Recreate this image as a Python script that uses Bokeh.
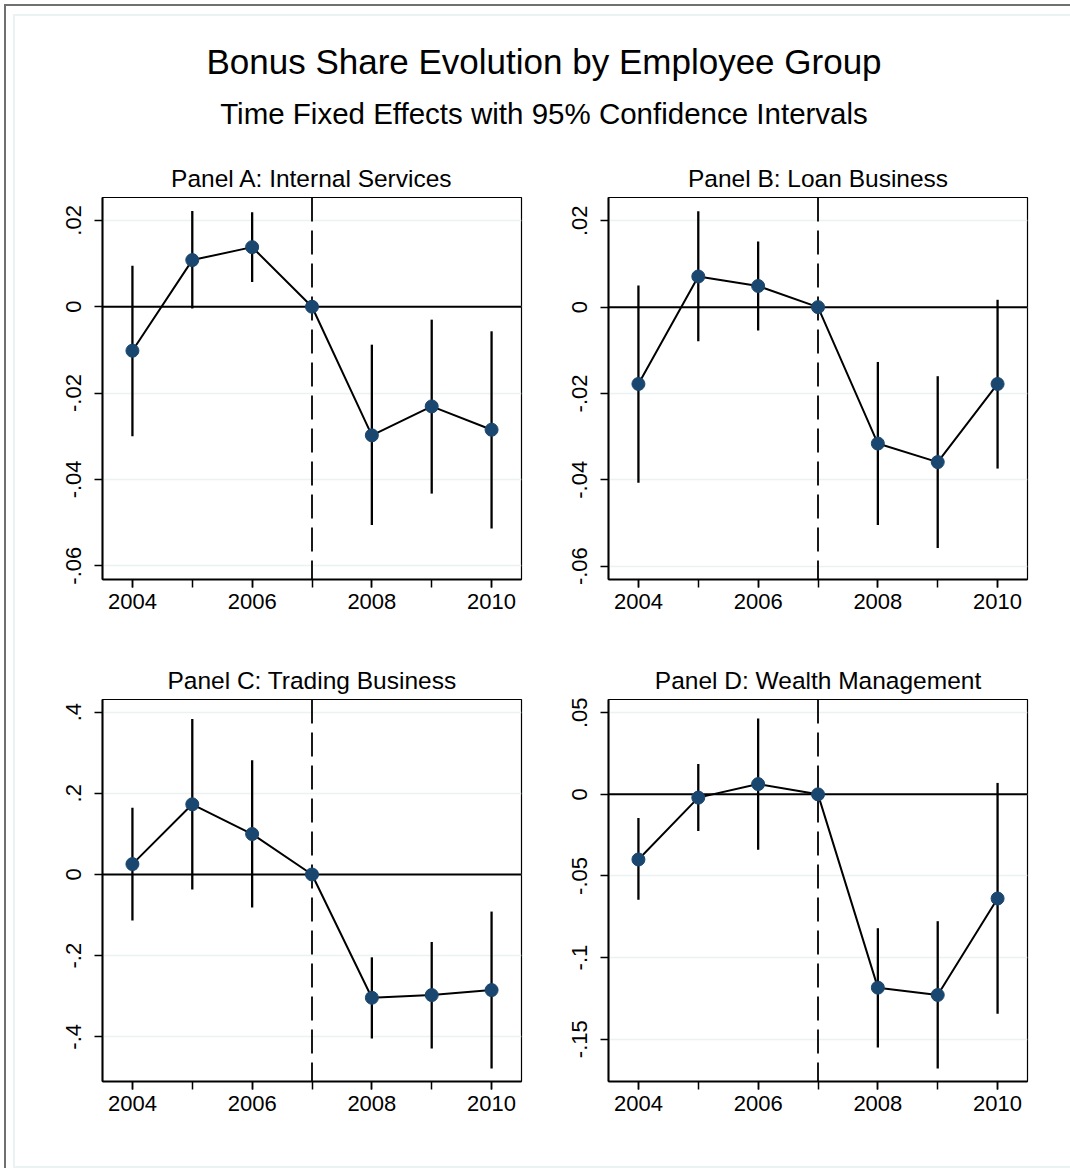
from bokeh.plotting import figure
from bokeh.layouts import column, row
from bokeh.models import Range1d, FixedTicker, Span, CustomJSTickFormatter, ColumnDataSource
from bokeh.core.properties import value
from bokeh.embed import file_html
from bokeh.resources import INLINE

# ---------------- data ----------------
title_text = "Bonus Share Evolution by Employee Group"
subtitle_text = "Time Fixed Effects with 95% Confidence Intervals"

years = [2004, 2005, 2006, 2007, 2008, 2009, 2010]
x_label_years = [2004, 2006, 2008, 2010]
ref_year = 2007

panel_titles = ["Panel A: Internal Services", "Panel B: Loan Business",
                "Panel C: Trading Business", "Panel D: Wealth Management"]

A_coef = [-0.0102, 0.0108, 0.0138, 0.0, -0.0298, -0.0231, -0.0285]
A_lo = [-0.0300, -0.0004, 0.0057, None, -0.0506, -0.0433, -0.0514]
A_hi = [0.0095, 0.0222, 0.0219, None, -0.0088, -0.0030, -0.0057]

B_coef = [-0.0178, 0.0071, 0.0049, 0.0, -0.0316, -0.0359, -0.0178]
B_lo = [-0.0407, -0.0079, -0.0054, None, -0.0505, -0.0558, -0.0374]
B_hi = [0.0050, 0.0222, 0.0152, None, -0.0127, -0.0160, 0.0017]

C_coef = [0.0255, 0.1728, 0.0996, 0.0, -0.3037, -0.2971, -0.2848]
C_lo = [-0.1136, -0.0370, -0.0815, None, -0.4040, -0.4288, -0.4782]
C_hi = [0.1646, 0.3827, 0.2815, None, -0.2041, -0.1663, -0.0914]

D_coef = [-0.0399, -0.0020, 0.0063, 0.0, -0.1184, -0.1229, -0.0638]
D_lo = [-0.0646, -0.0225, -0.0339, None, -0.1550, -0.1679, -0.1344]
D_hi = [-0.0145, 0.0186, 0.0464, None, -0.0820, -0.0777, 0.0070]

AB_yticks = [-0.06, -0.04, -0.02, 0.0, 0.02]
AB_ylabels = ["-.06", "-.04", "-.02", "0", ".02"]
C_yticks = [-0.4, -0.2, 0.0, 0.2, 0.4]
C_ylabels = ["-.4", "-.2", "0", ".2", ".4"]
D_yticks = [-0.15, -0.10, -0.05, 0.0, 0.05]
D_ylabels = ["-.15", "-.1", "-.05", "0", ".05"]

A_yrange = (-0.0632, 0.0253)
B_yrange = (-0.0631, 0.0254)
C_yrange = (-0.510, 0.431)
D_yrange = (-0.1759, 0.0581)
x_range = (2003.5, 2010.5)

# ---------------- style ----------------
FONT = "Liberation Sans"
NAVY = "#1a476f"
GRID = "#eaf2f3"


def make_panel(title, coef, lo, hi, yr, yticks, ylabels, borders):
    bl, br, bt, bb = borders
    p = figure(frame_width=419, frame_height=382,
               x_range=Range1d(*x_range), y_range=Range1d(*yr),
               output_backend="svg", toolbar_location=None,
               min_border_left=bl, min_border_right=br,
               min_border_top=bt, min_border_bottom=bb,
               title=title, background_fill_color="white",
               border_fill_color="white")
    p.title.align = "center"
    p.title.text_font = FONT
    p.title.text_font_size = "24.5px"
    p.title.text_font_style = "normal"
    p.title.text_color = "black"
    p.title.standoff = 12

    p.outline_line_color = "black"
    p.outline_line_width = 1.2
    p.outline_line_alpha = 1

    p.xgrid.visible = False
    p.ygrid.ticker = FixedTicker(ticks=yticks)
    p.ygrid.grid_line_color = GRID
    p.ygrid.grid_line_width = 1.5

    for ax in (p.xaxis[0], p.yaxis[0]):
        ax.axis_line_color = "black"
        ax.axis_line_width = 2
        ax.major_tick_in = 0
        ax.major_tick_out = 8
        ax.minor_tick_in = 0
        ax.minor_tick_out = 8
        ax.major_tick_line_width = 1.5
        ax.minor_tick_line_width = 1.5
        ax.major_tick_line_color = "black"
        ax.minor_tick_line_color = "black"
        ax.major_label_text_font = FONT
        ax.major_label_text_font_size = "22px"
        ax.major_label_text_color = "black"

    p.xaxis.ticker = FixedTicker(ticks=x_label_years, minor_ticks=years)
    p.xaxis.major_label_standoff = 6

    p.yaxis.ticker = FixedTicker(ticks=yticks, minor_ticks=[])
    p.yaxis.formatter = CustomJSTickFormatter(
        args=dict(vals=yticks, labs=ylabels),
        code="for (let i = 0; i < vals.length; i++) { if (Math.abs(tick - vals[i]) < 1e-9) return labs[i]; } return '';")
    p.yaxis.major_label_orientation = "parallel"
    p.yaxis.major_label_standoff = 13

    zero = Span(location=0, dimension="width", line_color="black",
                line_width=2, level="underlay")
    vref = Span(location=ref_year, dimension="height", line_color="black",
                line_width=1.8, line_dash="24 9", level="underlay")
    p.add_layout(zero)
    p.add_layout(vref)

    keep = [i for i in range(len(years)) if lo[i] is not None]
    ci = ColumnDataSource(dict(x=[years[i] for i in keep],
                               lo=[lo[i] for i in keep],
                               hi=[hi[i] for i in keep]))
    p.segment(x0="x", y0="lo", x1="x", y1="hi", source=ci,
              line_color="black", line_width=2.3)

    pts = ColumnDataSource(dict(x=years, y=coef))
    p.line(x="x", y="y", source=pts, line_color="black", line_width=2)
    p.scatter(x="x", y="y", source=pts, size=13, marker="circle",
              fill_color=NAVY, line_color=NAVY)
    return p


pA = make_panel(panel_titles[0], A_coef, A_lo, A_hi, A_yrange, AB_yticks, AB_ylabels, (87, 34, 51, 69))
pB = make_panel(panel_titles[1], B_coef, B_lo, B_hi, B_yrange, AB_yticks, AB_ylabels, (53, 43, 51, 69))
pC = make_panel(panel_titles[2], C_coef, C_lo, C_hi, C_yrange, C_yticks, C_ylabels, (87, 34, 51, 85))
pD = make_panel(panel_titles[3], D_coef, D_lo, D_hi, D_yrange, D_yticks, D_ylabels, (53, 43, 51, 85))

# header with main title and subtitle
HW, HH = 1055, 130
header = figure(frame_width=HW, frame_height=HH, x_range=Range1d(0, HW),
                y_range=Range1d(0, HH), output_backend="svg",
                toolbar_location=None, min_border=0,
                background_fill_color="white", border_fill_color="white")
header.axis.visible = False
header.grid.visible = False
header.outline_line_color = None
header.text(x=[528.5], y=[85], text=[title_text], text_align="center",
            text_baseline="middle", text_font=value(FONT),
            text_font_size="35px", text_color="black")
header.text(x=[528.5], y=[33], text=[subtitle_text], text_align="center",
            text_baseline="middle", text_font=value(FONT),
            text_font_size="29.5px", text_color="black")

inner = column(header, row(pA, pB), row(pC, pD),
               styles={"border-top": "2px solid #eaf2f3",
                       "border-left": "2px solid #eaf2f3",
                       "border-bottom": "2px solid #eaf2f3",
                       "background-color": "white"})
outer = column(inner, margin=(4, 0, 0, 4),
               styles={"border-top": "2px solid #707070",
                       "border-left": "2px solid #707070",
                       "padding-top": "8px", "padding-left": "7px",
                       "background-color": "white"})

open("out.html", "w").write(file_html(outer, INLINE))
